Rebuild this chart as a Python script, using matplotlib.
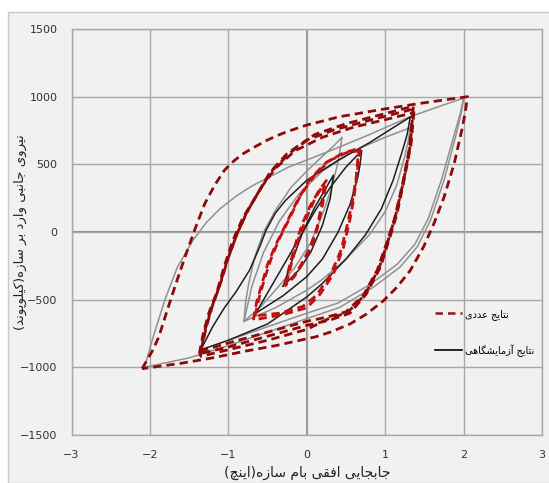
import matplotlib
matplotlib.use("Agg")
import matplotlib.pyplot as plt
from matplotlib.lines import Line2D
from matplotlib.patches import Rectangle

# ---------------- data ----------------
x_ticks = [-3, -2, -1, 0, 1, 2, 3]
y_ticks = [-1500, -1000, -500, 0, 500, 1000, 1500]

# numerical results (red dashed), one list per cycle
num_D_x = [-2.10, -2.05, -1.97, -1.89, -1.79, -1.68, -1.55, -1.42, -1.30, -1.17, -1.05, -0.93, -0.81, -0.65, -0.51,
           -0.38, -0.25, 0.00, 0.42, 1.00, 1.50, 2.05,
           2.02, 1.98, 1.88, 1.75, 1.62, 1.49, 1.32, 1.15, 0.98, 0.76, 0.55, 0.30, 0.11, -0.40, -0.78, -1.20,
           -1.60, -2.10]
num_D_y = [-1010, -960, -880, -780, -598, -402, -180, 30, 210, 350, 456, 525, 579, 633, 677,
           712, 742, 790, 852, 910, 955, 1000,
           880, 760, 505, 256, 60, -109, -284, -408, -507, -607, -680, -740, -775, -840, -880, -930,
           -970, -1010]

num_C1_x = [-1.37, -1.32, -1.25, -1.15, -1.05, -0.94, -0.81, -0.64, -0.47, -0.25, 0.00, 0.35, 0.70, 1.00, 1.37,
            1.35, 1.33, 1.24, 1.15, 1.06, 0.94, 0.76, 0.55, 0.30, 0.00, -0.50, -1.00, -1.37]
num_C1_y = [-900, -750, -600, -451, -250, -59, 110, 270, 440, 580, 680, 755, 810, 855, 910,
            780, 650, 381, 132, -40, -259, -458, -600, -650, -690, -770, -850, -900]
num_C2_x = [-1.35, -1.28, -1.20, -1.10, -1.00, -0.88, -0.74, -0.58, -0.40, -0.15, 0.20, 0.60, 1.00, 1.35,
            1.33, 1.31, 1.22, 1.12, 1.02, 0.90, 0.72, 0.50, 0.25, 0.00, -0.50, -1.00, -1.35]
num_C2_y = [-880, -700, -540, -380, -190, 0, 170, 330, 470, 600, 700, 775, 830, 880,
            750, 620, 350, 100, -80, -280, -470, -590, -630, -660, -740, -820, -880]
num_C3_x = [-1.36, -1.30, -1.22, -1.12, -1.02, -0.90, -0.77, -0.61, -0.44, -0.20, 0.10, 0.50, 0.90, 1.36,
            1.34, 1.32, 1.23, 1.13, 1.04, 0.92, 0.74, 0.52, 0.28, 0.00, -0.50, -1.00, -1.36]
num_C3_y = [-920, -730, -570, -410, -220, -30, 140, 300, 455, 590, 720, 800, 860, 930,
            790, 640, 365, 115, -60, -270, -465, -595, -640, -720, -800, -870, -920]

num_B1_x = [-0.68, -0.64, -0.58, -0.50, -0.40, -0.28, -0.13, 0.04, 0.25, 0.47, 0.68,
            0.64, 0.60, 0.55, 0.47, 0.34, 0.17, 0.00, -0.30, -0.68]
num_B1_y = [-650, -520, -400, -240, -100, 40, 220, 390, 515, 585, 620,
            420, 250, 90, -110, -310, -460, -560, -610, -650]
num_B2_x = [-0.66, -0.60, -0.53, -0.45, -0.35, -0.22, -0.08, 0.10, 0.30, 0.50, 0.66,
            0.63, 0.58, 0.52, 0.44, 0.30, 0.12, -0.05, -0.35, -0.66]
num_B2_y = [-620, -470, -330, -190, -50, 100, 270, 420, 530, 585, 600,
            400, 220, 60, -130, -320, -470, -550, -600, -620]

num_A1_x = [-0.28, -0.22, -0.14, -0.05, 0.05, 0.15, 0.25, 0.21, 0.15, 0.07, -0.05, -0.16, -0.28]
num_A1_y = [-400, -250, -80, 70, 200, 300, 380, 230, 60, -100, -230, -330, -400]
num_A2_x = [-0.26, -0.19, -0.10, 0.00, 0.10, 0.18, 0.22, 0.19, 0.13, 0.04, -0.08, -0.18, -0.26]
num_A2_y = [-380, -220, -40, 110, 240, 320, 350, 200, 30, -120, -250, -340, -380]

# experimental results (thin solid), one list per cycle
exp_D_x = [-2.07, -1.95, -1.81, -1.65, -1.45, -1.28, -1.11, -0.90, -0.70, -0.23, 0.30, 0.80, 1.31, 1.70, 2.00,
           1.97, 1.92, 1.75, 1.58, 1.41, 1.19, 0.85, 0.42, 0.00, -0.50, -1.00, -1.50, -2.07]
exp_D_y = [-1000, -760, -502, -260, -60, 70, 170, 265, 340, 480, 600, 720, 850, 930, 990,
           880, 754, 381, 90, -109, -259, -408, -557, -640, -740, -840, -930, -1000]
exp_D2_x = [2.00, 1.96, 1.90, 1.72, 1.55, 1.38, 1.15, 0.80, 0.40, 0.00, -0.50, -1.00]
exp_D2_y = [990, 880, 760, 390, 100, -90, -240, -390, -525, -600, -700, -800]

exp_C_x = [-1.35, -1.20, -1.05, -0.90, -0.73, -0.60, -0.52, -0.40, -0.27, 0.00, 0.40, 0.80, 1.10, 1.32,
           1.28, 1.22, 1.10, 0.95, 0.75, 0.50, 0.20, 0.00, -0.50, -1.00, -1.35]
exp_C_y = [-870, -700, -560, -440, -283, -110, 12, 140, 234, 382, 530, 660, 770, 850,
           720, 600, 380, 170, -20, -200, -380, -480, -680, -800, -870]

exp_G1_x = [-0.80, -0.78, -0.74, -0.66, -0.55, -0.40, -0.20, 0.00, 0.20, 0.35, 0.45,
            0.40, 0.32, 0.20, 0.05, -0.15, -0.40, -0.60, -0.80]
exp_G1_y = [-660, -520, -380, -180, 0, 160, 330, 450, 560, 640, 700,
            520, 330, 130, -80, -260, -430, -560, -660]
exp_G2_x = [-0.80, -0.70, -0.55, -0.35, -0.10, 0.20, 0.60, 1.00, 1.32,
            1.29, 1.25, 1.15, 1.00, 0.80, 0.50, 0.20, 0.00, -0.40, -0.80]
exp_G2_y = [-660, -400, -150, 80, 280, 450, 600, 700, 770,
            660, 560, 350, 150, -20, -200, -350, -430, -560, -660]

exp_B_x = [-0.65, -0.50, -0.30, -0.10, 0.10, 0.30, 0.50, 0.70,
           0.68, 0.65, 0.55, 0.40, 0.20, 0.00, -0.30, -0.65]
exp_B_y = [-600, -450, -250, -50, 150, 330, 480, 600,
           500, 400, 200, 0, -200, -330, -470, -600]

exp_A_x = [-0.30, -0.20, -0.05, 0.10, 0.25, 0.34, 0.30, 0.20, 0.05, -0.10, -0.30]
exp_A_y = [-400, -230, 0, 180, 330, 420, 250, 50, -150, -280, -400]

x_label = "جابجایی افقی بام سازه(اینچ)"
y_label = "نیروی جانبی وارد بر سازه(کیلوپوند)"
legend_labels = ["نتایج عددی", "نتایج آزمایشگاهی"]

# ---------------- simple Persian shaping (matplotlib has no shaping) ----------------
FORMS = {
    'ا': (0xFE8D, 0xFE8E, None, None), 'آ': (0xFE81, 0xFE82, None, None),
    'ب': (0xFE8F, 0xFE90, 0xFE91, 0xFE92), 'پ': (0xFB56, 0xFB57, 0xFB58, 0xFB59),
    'ت': (0xFE95, 0xFE96, 0xFE97, 0xFE98), 'ج': (0xFE9D, 0xFE9E, 0xFE9F, 0xFEA0),
    'چ': (0xFB7A, 0xFB7B, 0xFB7C, 0xFB7D), 'ح': (0xFEA1, 0xFEA2, 0xFEA3, 0xFEA4),
    'د': (0xFEA9, 0xFEAA, None, None), 'ر': (0xFEAD, 0xFEAE, None, None),
    'ز': (0xFEAF, 0xFEB0, None, None), 'س': (0xFEB1, 0xFEB2, 0xFEB3, 0xFEB4),
    'ش': (0xFEB5, 0xFEB6, 0xFEB7, 0xFEB8), 'ع': (0xFEC9, 0xFECA, 0xFECB, 0xFECC),
    'ف': (0xFED1, 0xFED2, 0xFED3, 0xFED4), 'ق': (0xFED5, 0xFED6, 0xFED7, 0xFED8),
    'ک': (0xFB8E, 0xFB8F, 0xFB90, 0xFB91), 'گ': (0xFB92, 0xFB93, 0xFB94, 0xFB95),
    'ل': (0xFEDD, 0xFEDE, 0xFEDF, 0xFEE0), 'م': (0xFEE1, 0xFEE2, 0xFEE3, 0xFEE4),
    'ن': (0xFEE5, 0xFEE6, 0xFEE7, 0xFEE8), 'و': (0xFEED, 0xFEEE, None, None),
    'ه': (0xFEE9, 0xFEEA, 0xFEEB, 0xFEEC), 'ی': (0xFBFC, 0xFBFD, 0xFBFE, 0xFBFF),
}


def shape(s):
    out = []
    for i, c in enumerate(s):
        if c not in FORMS:
            out.append(c)
            continue
        prev = s[i - 1] if i > 0 else None
        nxt = s[i + 1] if i + 1 < len(s) else None
        jp = prev in FORMS and FORMS[prev][2] is not None
        jn = FORMS[c][2] is not None and nxt in FORMS
        iso, fin, ini, med = FORMS[c]
        g = med if (jp and jn) else fin if jp else ini if jn else iso
        out.append(chr(g))
    vis = ''.join(reversed(out))
    return vis.translate(str.maketrans('()', ')('))


# ---------------- figure ----------------
plt.rcParams['font.family'] = ['DejaVu Sans']
fig = plt.figure(figsize=(5.49, 4.83), dpi=100, facecolor='white')
fig.patches.append(Rectangle((8 / 549, 0), 1, 1 - 12 / 483, transform=fig.transFigure,
                             facecolor='#f1f1f1', edgecolor='#c9c9c9', lw=1.0, zorder=-10))
ax = fig.add_axes([71.5 / 549, 48 / 483, (542 - 71.5) / 549, (435 - 29) / 483])
ax.set_facecolor('none')

ax.set_xlim(-3, 3)
ax.set_ylim(-1500, 1500)
ax.set_xticks(x_ticks)
ax.set_yticks(y_ticks)
ax.grid(True, color='#a8a8a8', lw=1.0, zorder=0)
for s in ax.spines.values():
    s.set_color('#a8a8a8')
    s.set_linewidth(1.0)
ax.axhline(0, color='#7a7a7a', lw=1.2, zorder=1)
ax.axvline(0, color='#7a7a7a', lw=1.2, zorder=1)
ax.tick_params(length=0, labelsize=8, labelcolor='#333333')
ax.tick_params(axis='x', pad=11)
ax.tick_params(axis='y', pad=10)

# experimental (thin solid)
gray = '#909090'
black = '#1e1e1e'
ax.plot(exp_D_x, exp_D_y, color=gray, lw=1.1, zorder=2)
ax.plot(exp_D2_x, exp_D2_y, color=gray, lw=1.1, zorder=2)
ax.plot(exp_G2_x, exp_G2_y, color=gray, lw=1.1, zorder=2)
ax.plot(exp_G1_x, exp_G1_y, color=gray, lw=1.1, zorder=2)
ax.plot(exp_C_x, exp_C_y, color=black, lw=1.1, zorder=2)
ax.plot(exp_B_x, exp_B_y, color=black, lw=1.1, zorder=2)
ax.plot(exp_A_x, exp_A_y, color=black, lw=1.1, zorder=2)

# numerical (red dashed)
dark_red = '#8e0a0a'
red = '#c01010'
dash = (3.0, 1.8)
for xs, ys, col in [(num_D_x, num_D_y, dark_red), (num_C1_x, num_C1_y, dark_red),
                    (num_C2_x, num_C2_y, dark_red), (num_C3_x, num_C3_y, dark_red),
                    (num_B1_x, num_B1_y, red), (num_B2_x, num_B2_y, red),
                    (num_A1_x, num_A1_y, red), (num_A2_x, num_A2_y, red)]:
    ax.plot(xs, ys, color=col, lw=2.0, dashes=dash, zorder=3)

ax.set_xlabel(shape(x_label), fontsize=10, color='#222222', labelpad=4)
ax.set_ylabel(shape(y_label), fontsize=9.5, color='#222222')
ax.yaxis.set_label_coords(-0.094, 0.5)

handles = [Line2D([], [], color='#8b1a1a', lw=1.8, dashes=(3, 2)),
           Line2D([], [], color='black', lw=1.2)]
ax.legend(handles, [shape(t) for t in legend_labels], loc='center left',
          bbox_to_anchor=(0.773, 0.252), frameon=False, fontsize=7,
          handlelength=2.8, handletextpad=0.3, labelspacing=2.5,
          borderpad=0, borderaxespad=0)

fig.savefig('out.png', dpi=100, facecolor=fig.get_facecolor())
